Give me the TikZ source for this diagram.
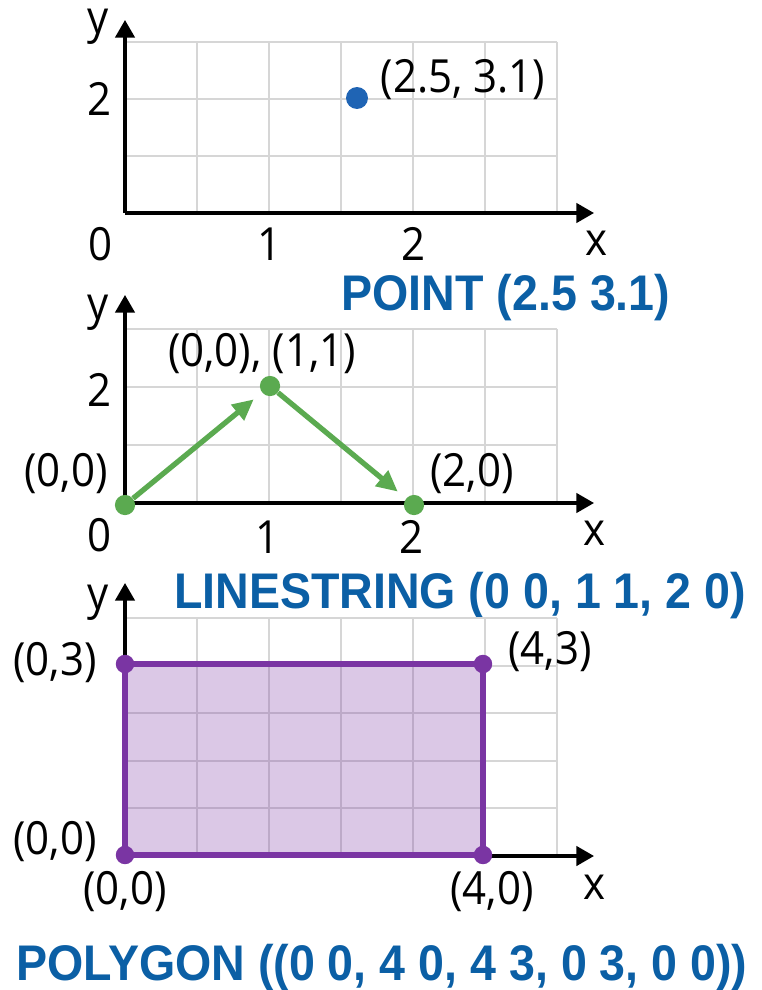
\documentclass[tikz,border=0pt]{standalone}
\usepackage{fontspec}
\setmainfont[FakeStretch=0.92]{Open Sans}
\newfontfamily\capfont[FakeStretch=0.93]{Liberation Sans}
\usepackage{tikz}
\usetikzlibrary{arrows.meta,positioning}
\definecolor{capblue}{HTML}{0B5FA5}
\definecolor{ptblue}{HTML}{1F64B4}
\definecolor{lsgreen}{HTML}{5BAA50}
\definecolor{pgpurple}{HTML}{7A35A3}
\definecolor{gridgray}{HTML}{D6D6D6}

\begin{document}
\begin{tikzpicture}[x=0.02cm, y=-0.02cm,
  font=\fontsize{26}{30}\selectfont,
  gridline/.style={draw=gridgray, line width=1pt},
  axis/.style={-{Triangle[length=10pt, width=11pt]}, line width=1.8pt, black},
  lbl/.style={inner sep=0pt},
  caption/.style={font=\capfont\bfseries\fontsize{28.5}{32}\selectfont,
    text=capblue, inner sep=0pt, anchor=base},
  ptdot/.style={circle, fill=ptblue, inner sep=0pt, minimum size=12.5pt},
  gdot/.style={circle, fill=lsgreen, inner sep=0pt, minimum size=11.5pt},
  pdot/.style={circle, fill=pgpurple, inner sep=0pt, minimum size=10.5pt},
  garr/.style={-{Triangle[length=12pt, width=11pt]}, line width=3pt, lsgreen,
    shorten >=6pt},
  poly/.style={draw=pgpurple, line width=3.4pt, fill=pgpurple, fill opacity=0.27,
    line join=round},
]
\useasboundingbox (0,0) rectangle (761,990);

% POINT
\foreach \gx in {125,197,...,557} \draw[gridline] (\gx,42) -- (\gx,213);
\foreach \gy in {42,99,156} \draw[gridline] (125,\gy) -- (557,\gy);
\coordinate (o1) at (125,213);
\coordinate (x1) at (594,213);
\coordinate (y1) at (125,20);
\draw[axis] (o1) -- (x1);
\draw[axis] (o1) -- (y1);
\node[lbl] (y1lbl) at (98,27) {y};
\node[lbl] (x1lbl) at (597,243) {x};
\node[lbl] (t10) at (101,244) {0};
\node[lbl] (t11) at (270,244) {1};
\node[lbl] (t12) at (414,244) {2};
\node[lbl] (t1y) at (100,99) {2};
\node[ptdot] (pt) at (357,98) {};
\node[lbl] (ptlbl) at (463,80) {(2.5, 3.1)};
\node[caption] (cap1) at (506,310) {POINT (2.5 3.1)};

% LINESTRING
\foreach \gx in {125,197,...,557} \draw[gridline] (\gx,329) -- (\gx,503);
\foreach \gy in {329,387,445} \draw[gridline] (125,\gy) -- (557,\gy);
\coordinate (o2) at (125,503);
\coordinate (x2) at (594,503);
\coordinate (y2) at (125,295);
\draw[axis] (o2) -- (x2);
\draw[axis] (o2) -- (y2);
\node[lbl] (y2lbl) at (98,313) {y};
\node[lbl] (x2lbl) at (595,533) {x};
\node[lbl] (t20) at (100,535) {0};
\node[lbl] (t21) at (268,537) {1};
\node[lbl] (t22) at (412,537) {2};
\node[lbl] (t2y) at (100,390) {2};
\node[gdot] (l0) at (125,505) {};
\node[gdot] (l1) at (270,386) {};
\node[gdot] (l2) at (414,505) {};
\draw[garr] (l0) -- (l1);
\draw[garr] (l1) -- (l2);
\node[lbl] (l1lbl) at (262,354) {(0,0), (1,1)};
\node[lbl] (l0lbl) at (66,474) {(0,0)};
\node[lbl] (l2lbl) at (472,474) {(2,0)};
\node[caption] (cap2) at (460,608) {LINESTRING (0 0, 1 1, 2 0)};

% POLYGON
\foreach \gx in {125,197,...,557} \draw[gridline] (\gx,618) -- (\gx,856);
\foreach \gy in {618,666,713,761,808} \draw[gridline] (125,\gy) -- (557,\gy);
\coordinate (o3) at (125,856);
\coordinate (x3) at (594,856);
\coordinate (y3) at (125,583);
\draw[axis] (o3) -- (x3);
\draw[axis] (o3) -- (y3);
\node[lbl] (y3lbl) at (98,603) {y};
\node[lbl] (x3lbl) at (595,887) {x};
\coordinate (c00) at (125,855);
\coordinate (c40) at (483,855);
\coordinate (c43) at (483,664);
\coordinate (c03) at (125,664);
\draw[poly] (c00) -- (c40) -- (c43) -- (c03) -- cycle;
\node[pdot] (p00) at (c00) {};
\node[pdot] (p40) at (c40) {};
\node[pdot] (p43) at (c43) {};
\node[pdot] (p03) at (c03) {};
\node[lbl] (p03lbl) at (55,663) {(0,3)};
\node[lbl] (p43lbl) at (550,652) {(4,3)};
\node[lbl] (p00lbl) at (55,842) {(0,0)};
\node[lbl] (p00blbl) at (125,892) {(0,0)};
\node[lbl] (p40lbl) at (492,892) {(4,0)};
\node[caption] (cap3) at (382,980) {POLYGON ((0 0, 4 0, 4 3, 0 3, 0 0))};
\end{tikzpicture}
\end{document}
